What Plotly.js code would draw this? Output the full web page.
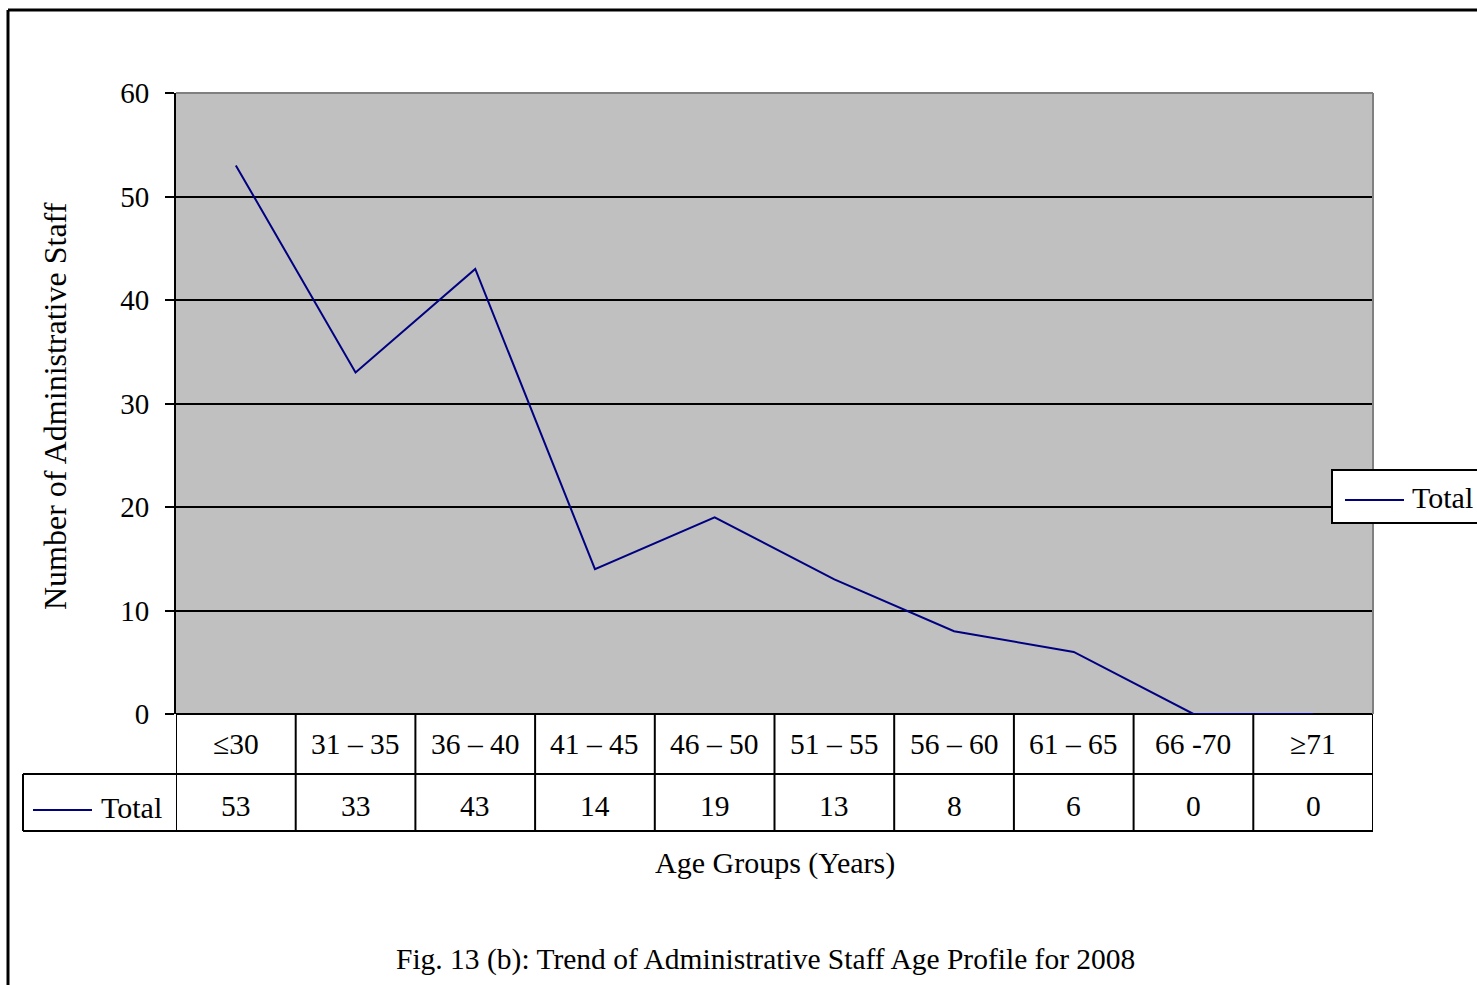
<!DOCTYPE html>
<html>
<head>
<meta charset="utf-8">
<script src="https://cdn.plot.ly/plotly-3.0.1.min.js"></script>
<style>html,body{margin:0;padding:0;background:#fff;}#chart{width:1477px;height:985px;}</style>
</head>
<body>
<div id="chart"></div>
<script>
const categories = ["\u226430", "31 \u2013 35", "36 \u2013 40", "41 \u2013 45", "46 \u2013 50", "51 \u2013 55", "56 \u2013 60", "61 \u2013 65", "66 -70", "\u226571"];
const totalValues = [53, 33, 43, 14, 19, 13, 8, 6, 0, 0];
const seriesName = "Total";
const yTickValues = [0, 10, 20, 30, 40, 50, 60];

const W = 1477, H = 985;
const L = 176, R = 1373, T = 93, B = 714;
const px = x => (x - L) / (R - L);
const py = y => (B - y) / (B - T);
const FONT = "Liberation Serif, Times New Roman, serif";
const NAVY = "#000080";

const idx = categories.map((c, i) => i);

const shapes = [];
const annotations = [];

// plot border top & right (gray)
shapes.push({type: "line", xref: "paper", yref: "paper", x0: 0, x1: 1, y0: 1, y1: 1, line: {color: "#808080", width: 2}});
shapes.push({type: "line", xref: "paper", yref: "paper", x0: 1, x1: 1, y0: 0, y1: 1, line: {color: "#808080", width: 2}});

// data table lines
const row1 = py(774), row2 = py(831);
shapes.push({type: "line", xref: "paper", yref: "paper", x0: px(23), x1: 1, y0: row1, y1: row1, line: {color: "#000", width: 2}, layer: "above"});
shapes.push({type: "line", xref: "paper", yref: "paper", x0: px(23), x1: 1, y0: row2, y1: row2, line: {color: "#000", width: 2}, layer: "above"});
shapes.push({type: "line", xref: "paper", yref: "paper", x0: px(23), x1: px(23), y0: row1, y1: row2, line: {color: "#000", width: 2}, layer: "above"});
for (let i = 0; i <= categories.length; i++) {
  shapes.push({type: "line", xref: "x", yref: "paper", x0: i - 0.5, x1: i - 0.5, y0: 0, y1: row2, line: {color: "#000", width: 2}, layer: "above"});
}
// legend key inside table
shapes.push({type: "line", xref: "paper", yref: "paper", x0: px(33), x1: px(92), y0: py(810), y1: py(810), line: {color: NAVY, width: 2}, layer: "above"});
annotations.push({xref: "paper", yref: "paper", x: px(164), y: py(807), xanchor: "right", yanchor: "middle", text: seriesName, showarrow: false, font: {family: FONT, size: 30, color: "#000"}});

categories.forEach((c, i) => {
  annotations.push({xref: "x", yref: "paper", x: i, y: 0, yshift: -30, yanchor: "middle", text: c, showarrow: false, font: {family: FONT, size: 29.5, color: "#000"}});
  annotations.push({xref: "x", yref: "paper", x: i, y: 0, yshift: -92, yanchor: "middle", text: String(totalValues[i]), showarrow: false, font: {family: FONT, size: 29.5, color: "#000"}});
});

// legend box on right
shapes.push({type: "rect", xref: "paper", yref: "paper", x0: px(1332), x1: px(1490), y0: py(470), y1: py(523), line: {color: "#000", width: 2}, fillcolor: "#fff", layer: "above"});
shapes.push({type: "line", xref: "paper", yref: "paper", x0: px(1345), x1: px(1404), y0: py(500), y1: py(500), line: {color: NAVY, width: 2}, layer: "above"});
annotations.push({xref: "paper", yref: "paper", x: px(1410), y: py(497), xanchor: "left", yanchor: "middle", text: seriesName, showarrow: false, font: {family: FONT, size: 30, color: "#000"}});

// outer frame
shapes.push({type: "line", xref: "paper", yref: "paper", x0: px(8), x1: px(1490), y0: py(10), y1: py(10), line: {color: "#000", width: 3}});
shapes.push({type: "line", xref: "paper", yref: "paper", x0: px(8), x1: px(8), y0: py(10), y1: py(1000), line: {color: "#000", width: 3}});

// titles
annotations.push({xref: "paper", yref: "paper", x: px(55), y: py(406), textangle: -90, xanchor: "center", yanchor: "middle", text: "Number of Administrative Staff", showarrow: false, font: {family: FONT, size: 32, color: "#000"}});
annotations.push({xref: "paper", yref: "paper", x: px(775), y: py(863), xanchor: "center", yanchor: "middle", text: "Age Groups (Years)", showarrow: false, font: {family: FONT, size: 30, color: "#000"}});
annotations.push({xref: "paper", yref: "paper", x: px(765), y: py(959), xanchor: "center", yanchor: "middle", text: "Fig. 13 (b): Trend of Administrative Staff Age Profile for 2008", showarrow: false, font: {family: FONT, size: 29.5, color: "#000"}});

const trace = {
  type: "scatter", mode: "lines", name: seriesName,
  x: idx, y: totalValues,
  line: {color: NAVY, width: 2},
  cliponaxis: true,
  hoverinfo: "skip"
};

const layout = {
  width: W, height: H,
  margin: {l: L, r: W - R, t: T, b: H - B, pad: 0},
  paper_bgcolor: "#fff",
  plot_bgcolor: "#C0C0C0",
  showlegend: false,
  font: {family: FONT, size: 29, color: "#000"},
  xaxis: {range: [-0.5, categories.length - 0.5], showticklabels: false, showgrid: false, zeroline: false, showline: false, ticks: "", fixedrange: true},
  yaxis: {range: [0, 60], tickvals: yTickValues, ticktext: yTickValues.map(String), showgrid: true, gridcolor: "#000", gridwidth: 2, zeroline: true, zerolinecolor: "#000", zerolinewidth: 2, showline: true, linecolor: "#000", linewidth: 2, ticks: "outside", ticklen: 9, tickwidth: 2, tickcolor: "#000", ticklabelstandoff: 10, tickfont: {family: FONT, size: 29, color: "#000"}, fixedrange: true},
  shapes: shapes,
  annotations: annotations
};

Plotly.newPlot("chart", [trace], layout, {displayModeBar: false, staticPlot: true});
</script>
</body>
</html>
